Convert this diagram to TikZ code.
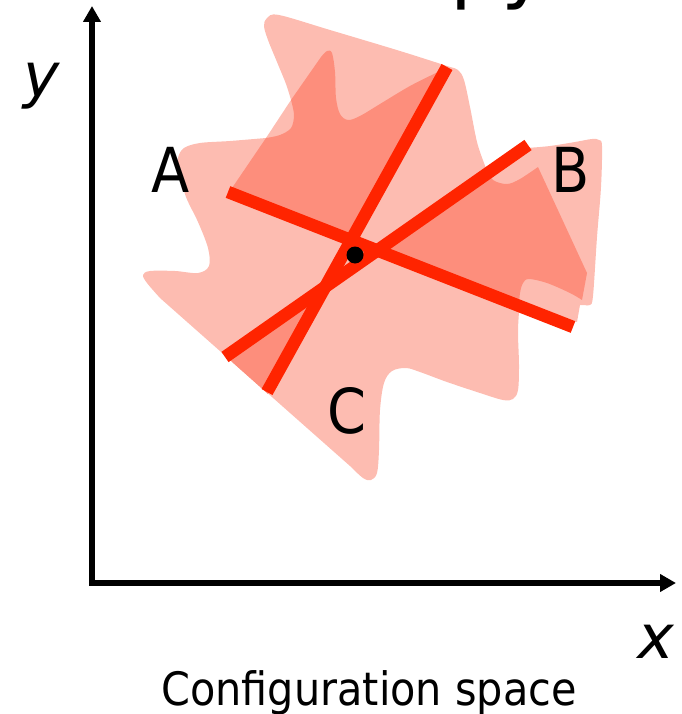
\documentclass[tikz,border=0pt]{standalone}
\usepackage{fontspec}
\setmainfont{DejaVu Sans}[FakeStretch=0.9]
\newfontfamily\axisfont{DejaVu Sans}[FakeSlant=0.2]
\newfontfamily\titlefont{DejaVu Sans}
\usetikzlibrary{arrows.meta}
\definecolor{lightobs}{RGB}{253,188,177}
\definecolor{darkobs}{RGB}{253,142,124}
\definecolor{cutred}{RGB}{255,36,0}
\tikzset{
  cutline/.style={line width=12.5pt, draw=cutred, line cap=butt},
  axisline/.style={line width=5.3pt, draw=black, line join=miter,
    {Triangle[length=16pt,width=17pt]}-{Triangle[length=16pt,width=17pt]}},
  lbl/.style={inner sep=0pt, font=\fontsize{62}{62}\selectfont},
  axlbl/.style={inner sep=0pt, font=\axisfont\fontsize{61}{61}\selectfont},
  caption/.style={inner sep=0pt, font=\fontsize{46}{46}\selectfont},
}
\begin{document}
\begin{tikzpicture}[x=1pt,y=-1pt]
\useasboundingbox (0,0) rectangle (681,714);
\clip (0,0) rectangle (681,714);

% clipped title fragment
\node[anchor=base west, inner sep=0pt, font=\titlefont\fontsize{80}{80}\selectfont] (title) at (450.5,-6.6) {py};

% union of obstacle regions (single layer)
\fill[lightobs] (266,138) -- (291,100) -- plot[smooth,tension=0.55] coordinates {(291,100) (286,84) (277,62) (268,40) (264,26) (267,18) (279,15) (330,30) (400,51) (447,66) (458,70) (464,80) (470,107) (477,142) (484,163) (487,170)} -- (527,145) -- plot[smooth,tension=0.55] coordinates {(527,148) (550,146) (575,142) (592,139) (599,140) (602,146) (601,187) (597,237) (593,296) (590,305) (585,305)} -- (580,305) -- (577,322) -- (520,300) -- plot[smooth,tension=0.55] coordinates {(520,300) (518,330) (519,365) (518,390) (513,399) (503,400) (480,393) (447,382) (420,372) (406,368) (392,371) (384,383) (380,410) (379,450) (377,473) (371,480) (363,478) (350,466)} -- (160,298) -- plot[smooth,tension=0.55] coordinates {(160,298) (147,283) (143,275) (150,271) (175,271) (198,273) (209,266) (208,248) (198,222) (186,197) (179,172) (178,158) (184,148) (200,143) (230,141) (266,138)} -- cycle;

% overlaps (two layers)
\fill[darkobs] (351,240) -- (230,191) -- (266,138) -- plot[smooth,tension=0.55] coordinates {(266,138) (280,135) (291,128) (294,115) (291,100)} -- (321,57) -- plot[smooth,tension=0.55] coordinates {(321,57) (327,51) (332,53) (335,72) (336,98) (340,114) (348,120) (360,116) (380,104) (410,86) (440,71) (448,67)} -- cycle;
\fill[darkobs] (376,250) -- (485,168) -- plot[smooth,tension=0.55] coordinates {(485,168) (493,180) (507,184) (520,179) (538,167)} -- (587,273) -- (582,300) -- plot[smooth,tension=0.55] coordinates {(582,300) (570,293) (547,283) (529,279) (523,283) (520,293) (519,306)} -- cycle;
\fill[darkobs] (325,286) -- (226,356) -- (232,362) -- (268,394) -- cycle;

% cut lines
\coordinate (a1) at (228,192); \coordinate (a2) at (573,327);
\coordinate (b1) at (528,145); \coordinate (b2) at (225,357);
\coordinate (c1) at (447,67);  \coordinate (c2) at (267,392);
\draw[cutline] (a1) -- (a2);
\draw[cutline] (b1) -- (b2);
\draw[cutline] (c1) -- (c2);

% configuration point
\node[circle, fill=black, inner sep=0pt, minimum size=17pt] (q) at (355,255) {};

% axes
\coordinate (ytip) at (92,6);
\coordinate (origin) at (92,583);
\coordinate (xtip) at (676,583);
\draw[axisline] (ytip) -- (origin) -- (xtip);

% labels
\node[lbl, anchor=base] (A) at (171,193) {A};
\node[lbl, anchor=base] (B) at (571,193) {B};
\node[lbl, anchor=base] (C) at (347,433) {C};
\node[axlbl, anchor=base] (xl) at (653,658) {x};
\node[axlbl, anchor=base] (yl) at (38,97) {y};
\node[caption, anchor=base] (cap) at (369,705) {Configuration space};
\end{tikzpicture}
\end{document}
